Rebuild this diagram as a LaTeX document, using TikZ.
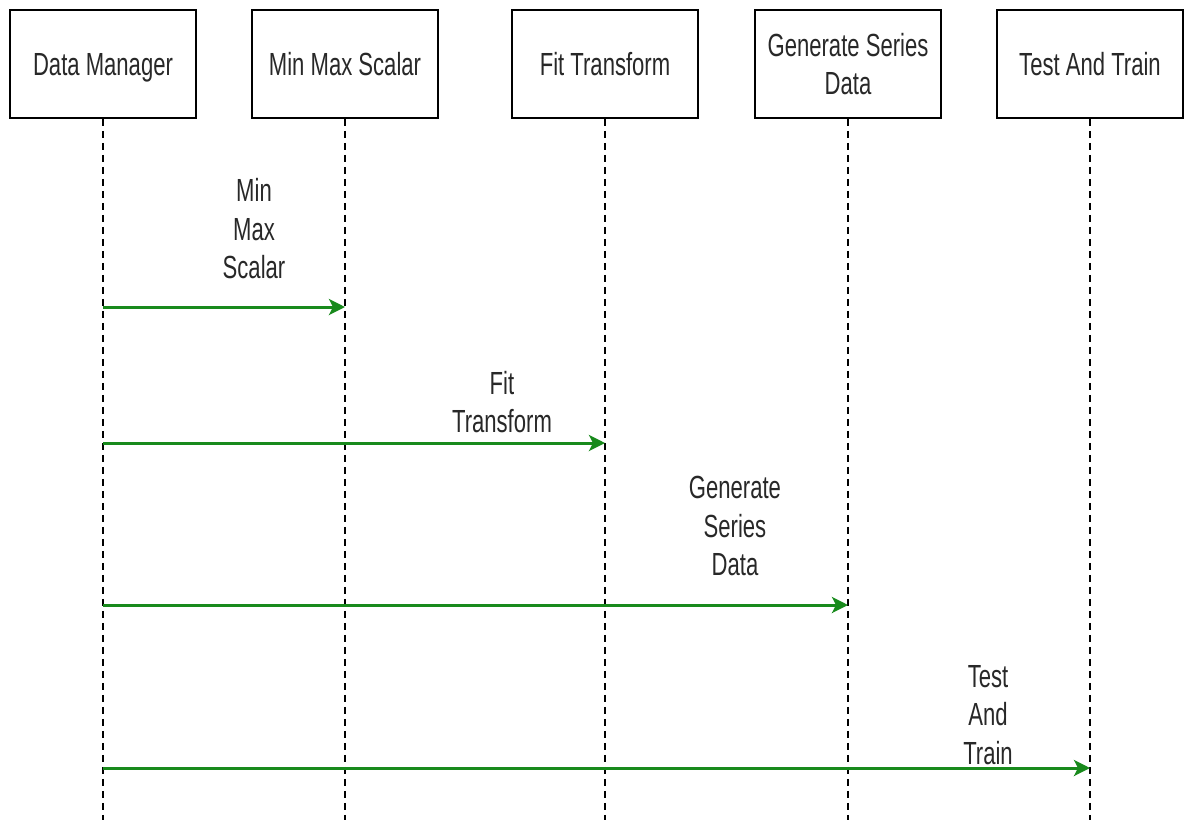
\documentclass[tikz,border=0pt]{standalone}
\usepackage{fontspec}
\setmainfont{Liberation Sans}[FakeStretch=0.69]
\usetikzlibrary{arrows.meta}
\definecolor{msggreen}{RGB}{24,138,28}
\definecolor{labelgray}{RGB}{40,40,40}
\begin{document}
\begin{tikzpicture}[x=1pt,y=-1pt,
  txt/.style={font=\fontsize{32}{38.5}\selectfont, text=labelgray, align=center, inner sep=0pt},
  actor/.style={txt, draw=black, line width=1.5pt, minimum width=186pt, minimum height=108pt},
  oneline/.style={text height=23pt, text depth=0pt},
  lifeline/.style={draw=black, line width=1.3pt, dash pattern=on 7pt off 5pt},
  msg/.style={draw=msggreen, line width=3pt, -{Stealth[length=16pt,width=16pt,inset=4pt]}}]
\useasboundingbox[fill=white] (0,0) rectangle (1187,820);

% participants
\node[actor,oneline] (dm)  at (103,64)  {Data Manager};
\node[actor,oneline] (mms) at (345,64)  {Min Max Scalar};
\node[actor,oneline] (ft)  at (605,64)  {Fit Transform};
\node[actor]         (gsd) at (848,64)  {Generate Series\\Data};
\node[actor,oneline] (tat) at (1090,64) {Test And Train};

% lifeline ends
\coordinate (dmEnd)  at (103,820);
\coordinate (mmsEnd) at (345,820);
\coordinate (ftEnd)  at (605,820);
\coordinate (gsdEnd) at (848,820);
\coordinate (tatEnd) at (1090,820);

\draw[lifeline] (dm.south)  -- (dmEnd);
\draw[lifeline] (mms.south) -- (mmsEnd);
\draw[lifeline] (ft.south)  -- (ftEnd);
\draw[lifeline] (gsd.south) -- (gsdEnd);
\draw[lifeline] (tat.south) -- (tatEnd);

% message anchor points on the lifelines
\coordinate (s1) at (103,307);  \coordinate (e1) at (345,307);
\coordinate (s2) at (103,443);  \coordinate (e2) at (605,443);
\coordinate (s3) at (103,605);  \coordinate (e3) at (848,605);
\coordinate (s4) at (103,768);  \coordinate (e4) at (1090,768);

\draw[msg] (s1) -- (e1);
\draw[msg] (s2) -- (e2);
\draw[msg] (s3) -- (e3);
\draw[msg] (s4) -- (e4);

% message labels
\node[txt] (l1) at (254,229)  {Min\\Max\\Scalar};
\node[txt] (l2) at (502,402)  {Fit\\Transform};
\node[txt] (l3) at (735,526)  {Generate\\Series\\Data};
\node[txt] (l4) at (988,715)  {Test\\And\\Train};
\end{tikzpicture}
\end{document}
